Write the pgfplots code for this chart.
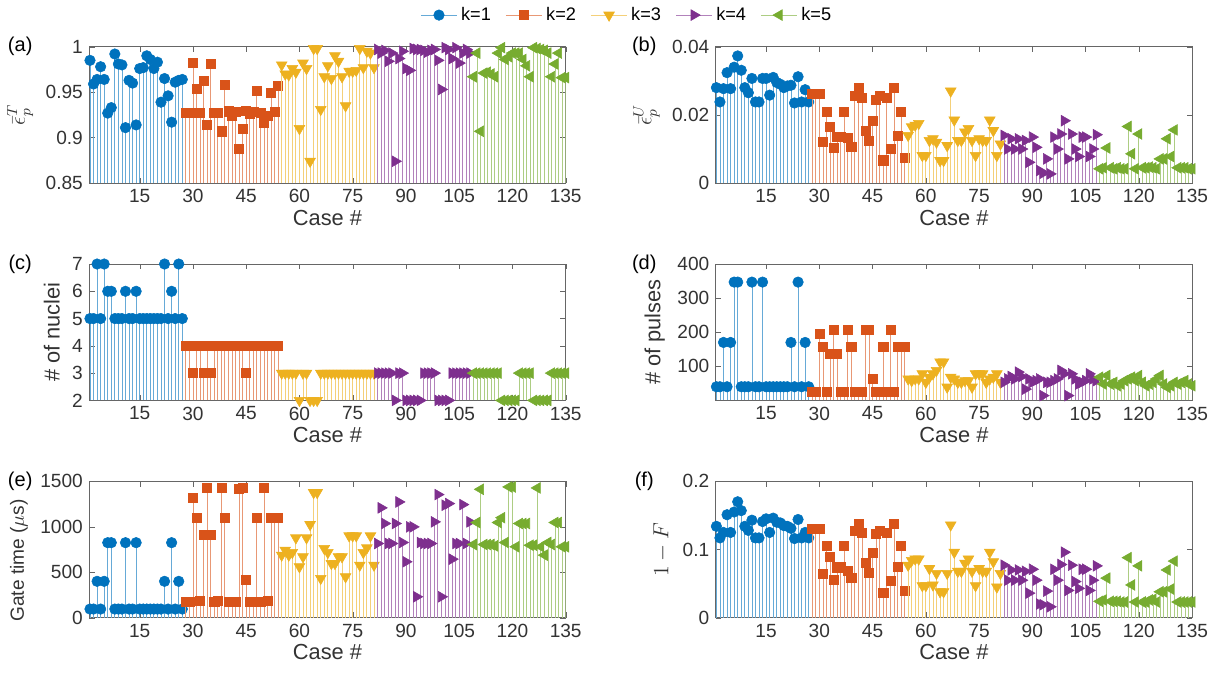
\documentclass[border=0pt]{standalone}
\usepackage{fontspec}
\setmainfont{Liberation Sans}
\usepackage{pgfplots}
\usepackage{pgfplotstable}
\pgfplotsset{compat=1.18}
\usepgfplotslibrary{groupplots}

\definecolor{c1}{RGB}{0,114,189}
\definecolor{c2}{RGB}{217,83,25}
\definecolor{c3}{RGB}{237,177,32}
\definecolor{c4}{RGB}{126,47,142}
\definecolor{c5}{RGB}{119,172,48}

% columns: case, (a) eps_T, (b) eps_U, (c) nuclei, (d) pulses, (e) gate time, (f) 1-F
\pgfplotstableread{
n a b c d e f
1 0.985 0.0280 5 40 95 0.134
2 0.959 0.0238 5 40 95 0.117
3 0.964 0.0277 7 170 400 0.125
4 0.978 0.0324 5 40 95 0.151
5 0.964 0.0277 7 170 400 0.125
6 0.927 0.0340 6 347 825 0.155
7 0.933 0.0373 6 347 825 0.170
8 0.992 0.0331 5 40 95 0.157
9 0.981 0.0280 5 40 95 0.134
10 0.980 0.0265 5 40 95 0.128
11 0.911 0.0307 6 347 825 0.143
12 0.963 0.0238 5 40 95 0.117
13 0.960 0.0238 5 40 95 0.117
14 0.914 0.0307 6 347 825 0.141
15 0.976 0.0307 5 40 95 0.145
16 0.977 0.0258 5 40 95 0.125
17 0.990 0.0310 5 40 95 0.146
18 0.986 0.0295 5 40 95 0.140
19 0.976 0.0290 5 40 95 0.139
20 0.983 0.0280 5 40 95 0.135
21 0.939 0.0285 5 40 95 0.134
22 0.965 0.0287 7 170 400 0.131
23 0.946 0.0235 5 40 95 0.116
24 0.917 0.0312 6 347 825 0.144
25 0.961 0.0238 5 40 95 0.117
26 0.963 0.0274 7 170 400 0.125
27 0.964 0.0238 5 40 95 0.117
}\kone

\pgfplotstableread{
n a b c d e f
28 0.9275 0.0263 4 25 176 0.130
29 0.9275 0.0263 4 25 176 0.131
30 0.982 0.0263 3 195 1317 0.131
31 0.954 0.0121 4 157 1098 0.064
32 0.9275 0.0209 4 25 183 0.106
33 0.963 0.0165 3 137 915 0.089
34 0.914 0.0104 4 207 1427 0.056
35 0.981 0.0137 3 137 907 0.074
36 0.927 0.0137 4 25 176 0.074
37 0.9275 0.0209 4 25 183 0.106
38 0.907 0.0133 4 207 1427 0.069
39 0.958 0.0106 4 157 1098 0.058
40 0.929 0.0257 4 25 176 0.128
41 0.924 0.0280 4 25 176 0.138
42 0.928 0.0251 4 25 176 0.125
43 0.888 0.0153 4 207 1420 0.080
44 0.910 0.0125 4 207 1427 0.066
45 0.930 0.0182 3 63 413 0.095
46 0.926 0.0245 4 25 176 0.123
47 0.928 0.0255 4 25 176 0.128
48 0.952 0.0067 4 157 1098 0.036
49 0.9275 0.0249 4 25 176 0.125
50 0.916 0.0101 4 207 1427 0.054
51 0.924 0.0280 4 25 183 0.138
52 0.949 0.0140 4 157 1098 0.075
53 0.928 0.0209 4 157 1098 0.106
54 0.957 0.0074 4 157 1098 0.040
}\ktwo

\pgfplotstableread{
n a b c d e f
55 0.980 0.0140 3 63 688 0.077
56 0.970 0.0165 3 58 743 0.084
57 0.969 0.0170 3 63 688 0.086
58 0.976 0.0175 3 63 717 0.086
59 0.972 0.0081 3 78 878 0.047
60 0.910 0.0081 2 53 560 0.047
61 0.982 0.0125 3 68 670 0.072
62 0.976 0.0130 3 78 878 0.048
63 0.874 0.0120 2 88 1024 0.065
64 0.998 0.0066 2 113 1376 0.038
65 0.998 0.0066 2 113 1376 0.038
66 0.931 0.0110 3 39 432 0.065
67 0.967 0.0270 3 68 761 0.136
68 0.979 0.0185 3 63 717 0.096
69 0.965 0.0125 3 53 596 0.068
70 0.990 0.0125 3 53 596 0.068
71 0.984 0.0150 3 58 670 0.080
72 0.967 0.0160 3 58 670 0.086
73 0.935 0.0125 3 39 450 0.068
74 0.973 0.0081 3 78 900 0.047
75 0.973 0.0130 3 78 900 0.072
76 0.974 0.0125 3 78 900 0.068
77 0.998 0.0125 3 53 578 0.068
78 0.977 0.0185 3 63 717 0.096
79 0.995 0.0154 3 68 768 0.082
80 0.993 0.0081 3 78 900 0.045
81 0.977 0.0115 3 53 578 0.065
}\kthree

\pgfplotstableread{
n a b c d e f
82 0.997 0.0140 3 53 816 0.077
83 0.993 0.0100 3 63 1208 0.055
84 0.996 0.0130 3 70 1036 0.070
85 0.984 0.0100 3 63 816 0.055
86 0.993 0.0130 3 83 816 0.070
87 0.874 0.0100 2 70 1036 0.055
88 0.987 0.0125 3 33 1273 0.068
89 0.995 0.0061 3 63 827 0.036
90 0.976 0.0135 2 53 615 0.071
91 0.974 0.0105 2 58 999 0.055
92 0.998 0.0037 2 63 999 0.020
93 0.997 0.0029 2 14 230 0.019
94 0.997 0.0071 2 53 827 0.039
95 0.996 0.0027 3 53 816 0.016
96 0.994 0.0135 3 58 816 0.071
97 0.996 0.0100 3 63 816 0.055
98 0.997 0.0144 3 88 1054 0.078
99 0.985 0.0183 2 78 1354 0.096
100 0.953 0.0071 2 14 230 0.040
101 0.999 0.0144 2 78 1237 0.077
102 0.997 0.0100 2 63 1255 0.053
103 0.987 0.0078 3 48 644 0.043
104 0.999 0.0135 3 53 816 0.071
105 0.982 0.0135 3 58 816 0.071
106 0.993 0.0078 3 78 1244 0.040
107 0.997 0.0100 3 63 816 0.055
108 0.993 0.0142 3 58 1054 0.076
}\kfour

\pgfplotstableread{
n a b c d e f
109 0.967 0.0042 3 68 805 0.024
110 0.993 0.0045 3 48 1047 0.026
111 0.907 0.0103 3 73 1412 0.058
112 0.971 0.0045 3 48 805 0.024
113 0.972 0.0042 3 53 805 0.024
114 0.970 0.0045 3 43 805 0.024
115 0.967 0.0042 3 48 790 0.023
116 0.993 0.0042 3 58 1047 0.023
117 0.999 0.0166 2 63 1100 0.088
118 0.986 0.0086 2 68 827 0.048
119 0.989 0.0042 2 58 1438 0.023
120 0.993 0.0144 2 73 1438 0.076
121 0.993 0.0045 2 53 780 0.023
122 0.993 0.0045 3 43 1036 0.023
123 0.986 0.0047 3 48 1036 0.026
124 0.979 0.0045 3 53 1036 0.027
125 0.967 0.0042 3 63 797 0.023
126 0.999 0.0071 2 73 797 0.038
127 0.998 0.0071 2 48 1427 0.038
128 0.997 0.0130 2 38 780 0.070
129 0.996 0.0078 2 43 688 0.042
130 0.993 0.0156 2 53 827 0.083
131 0.967 0.0045 3 48 805 0.023
132 0.981 0.0045 3 53 1047 0.023
133 0.993 0.0045 3 58 1047 0.023
134 0.966 0.0042 3 48 780 0.023
135 0.966 0.0042 3 43 780 0.023
}\kfive

\pgfplotsset{
  s1/.style={ycomb, color=c1!60, line width=0.45pt, mark=*, mark size=2.9pt,
    mark options={fill=c1, draw=c1, line width=0.3pt}},
  s2/.style={ycomb, color=c2!60, line width=0.45pt, mark=square*, mark size=2.5pt,
    mark options={fill=c2, draw=c2, line width=0.3pt}},
  s3/.style={ycomb, color=c3!60, line width=0.45pt, mark=triangle*, mark size=3.4pt,
    mark options={fill=c3, draw=c3, line width=0.3pt, rotate=180}},
  s4/.style={ycomb, color=c4!60, line width=0.45pt, mark=triangle*, mark size=3.4pt,
    mark options={fill=c4, draw=c4, line width=0.3pt, rotate=-90}},
  s5/.style={ycomb, color=c5!60, line width=0.45pt, mark=triangle*, mark size=3.4pt,
    mark options={fill=c5, draw=c5, line width=0.3pt, rotate=90}},
}

\newcommand{\stems}[1]{%
  \addplot[s1] table[x=n, y=#1] {\kone};
  \addplot[s2] table[x=n, y=#1] {\ktwo};
  \addplot[s3] table[x=n, y=#1] {\kthree};
  \addplot[s4] table[x=n, y=#1] {\kfour};
  \addplot[s5] table[x=n, y=#1] {\kfive};
}

\begin{document}
\begin{tikzpicture}
\begin{groupplot}[
  group style={group size=2 by 3, horizontal sep=82.5pt, vertical sep=44.5pt},
  scale only axis, width=262pt, height=75pt,
  xmin=0.8, xmax=135, xtick={15,30,...,135},
  xlabel={Case \#},
  clip mode=individual,
  scaled ticks=false,
  /pgf/number format/assume math mode=true,
  /pgf/number format/1000 sep={},
  tick label style={font=\fontsize{10.5}{12}\selectfont, text=black!80},
  label style={font=\fontsize{12}{14}\selectfont, text=black!80},
  xlabel style={yshift=3pt},
  axis line style={black!60}, tick style={black!60},
  major tick length=3pt,
  legend image code/.code={\draw[mark repeat=2, mark phase=2, #1, sharp plot]
    plot coordinates {(0cm,0cm) (0.35cm,0cm) (0.7cm,0cm)};},
]
\nextgroupplot[ymin=0.85, ymax=1, ytick={0.85,0.9,0.95,1},
  ylabel={$\bar{\epsilon}_p^{T}$},
  legend columns=5,
  legend style={at={(1.13,1.232)}, anchor=center, draw=none, fill=none,
    font=\fontsize{10}{11}\selectfont,
    /tikz/every even column/.append style={column sep=6pt}}]
\stems{a}
\legend{k=1, k=2, k=3, k=4, k=5}
\node[font=\fontsize{11}{13}\selectfont] at (rel axis cs:-0.145,1.0) {(a)};

\nextgroupplot[ymin=0, ymax=0.04, ytick={0,0.02,0.04},
  yticklabels={0,0.02,0.04},
  ylabel={$\bar{\epsilon}_p^{U}$}]
\stems{b}
\node[font=\fontsize{11}{13}\selectfont] at (rel axis cs:-0.15,1.0) {(b)};

\nextgroupplot[ymin=2, ymax=7, ytick={2,3,4,5,6,7},
  ylabel={\# of nuclei}]
\stems{c}
\node[font=\fontsize{11}{13}\selectfont] at (rel axis cs:-0.145,1.0) {(c)};

\nextgroupplot[ymin=0, ymax=400, ytick={100,200,300,400},
  ylabel={\# of pulses}]
\stems{d}
\node[font=\fontsize{11}{13}\selectfont] at (rel axis cs:-0.15,1.0) {(d)};

\nextgroupplot[ymin=0, ymax=1500, ytick={0,500,1000,1500},
  ylabel={Gate time ($\mu$s)},
  ylabel style={font=\fontsize{10.5}{12}\selectfont, at={(ticklabel cs:0.42)}}]
\stems{e}
\node[font=\fontsize{11}{13}\selectfont] at (rel axis cs:-0.145,1.0) {(e)};

\nextgroupplot[ymin=0, ymax=0.2, ytick={0,0.1,0.2},
  ylabel={$1-F$}]
\stems{f}
\node[font=\fontsize{11}{13}\selectfont] at (rel axis cs:-0.15,1.0) {(f)};
\end{groupplot}
\pgfresetboundingbox
\path[use as bounding box] (group c1r1.north west) ++(-49.1pt,25.7pt) rectangle ++(671.5pt,-372.4pt);
\end{tikzpicture}
\end{document}
